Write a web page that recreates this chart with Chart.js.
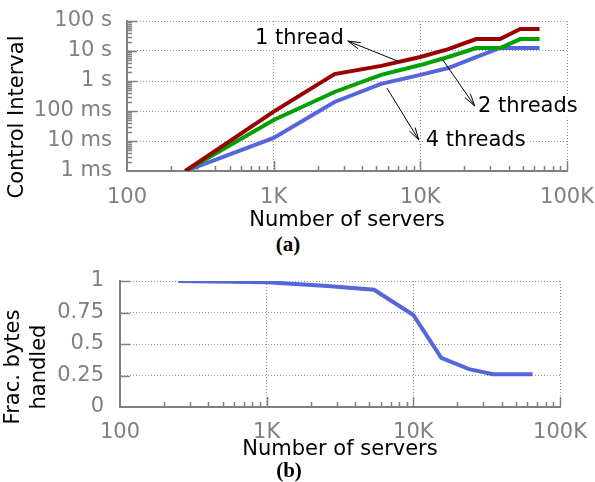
<!DOCTYPE html>
<html>
<head>
<meta charset="utf-8">
<script src="https://cdn.jsdelivr.net/npm/chart.js@4/dist/chart.umd.min.js"></script>
<style>
  html, body { margin: 0; padding: 0; background: #fff; }
  #wrap { position: relative; width: 595px; height: 482px; }
  canvas { position: absolute; left: 0; }
  .cap { position: absolute; width: 60px; text-align: center; line-height: 24px;
         font: bold 21px "Liberation Serif", "DejaVu Serif", serif; color: #000; }
</style>
</head>
<body>
<div id="wrap">
  <canvas id="top" width="595" height="232" style="top:0"></canvas>
  <div class="cap" style="left:258px; top:232px">(a)</div>
  <canvas id="bottom" width="595" height="212" style="top:250px"></canvas>
  <div class="cap" style="left:259px; top:458px">(b)</div>
</div>
<script>
// number of servers (shared by both panels)
const servers = [250, 1000, 2600, 5400, 10000, 15500, 24000, 35000, 48000, 65000];

// control interval in seconds
const oneThread   = [0.001, 0.095, 1.7, 3.2, 6.3, 11.5, 25, 25, 54, 54];
const twoThreads  = [0.001, 0.05, 0.43, 1.6, 3.4, 6.3, 12.6, 12.6, 25, 25];
const fourThreads = [0.001, 0.0126, 0.2, 0.8, 1.6, 2.7, 6.3, 12.6, 12.6, 12.6];

// fraction of bytes handled
const fracBytes = [1.0, 0.99, 0.96, 0.93, 0.73, 0.39, 0.30, 0.26, 0.26, 0.26];

// tick labels
const xTicks = [100, 1000, 10000, 100000];
const xTickLabels = ['100', '1K', '10K', '100K'];
const intervalTicks = [0.001, 0.01, 0.1, 1, 10, 100];
const intervalTickLabels = ['1 ms', '10 ms', '100 ms', '1 s', '10 s', '100 s'];
const fracTicks = [0, 0.25, 0.5, 0.75, 1];
const fracTickLabels = ['0', '0.25', '0.5', '0.75', '1'];

const FONT = '"DejaVu Sans", sans-serif';
const GREY = '#808080';
const points = ys => servers.map((x, i) => ({ x, y: ys[i] }));

function serverAxis(axisHeight, labelPad, titlePad) {
  return {
    type: 'logarithmic', min: 100, max: 100000,
    afterBuildTicks: s => { s.ticks = xTicks.map(v => ({ value: v })); },
    afterFit: s => { s.height = axisHeight; s.paddingLeft = 0; s.paddingRight = 0; },
    ticks: {
      color: GREY, padding: labelPad, maxRotation: 0, autoSkip: false,
      font: { family: FONT, size: 21 },
      callback: v => xTickLabels[xTicks.indexOf(v)]
    },
    grid: { color: '#999', lineWidth: 1, drawTicks: false },
    border: { color: GREY, width: 2, dash: [1, 2] },
    title: {
      display: true, text: 'Number of servers', color: '#000',
      font: { family: FONT, size: 21, lineHeight: 1 },
      padding: { top: 0, bottom: titlePad }
    }
  };
}

// small tick marks drawn inward from the axes
const innerTicks = {
  id: 'innerTicks',
  beforeDatasetsDraw(chart) {
    const { ctx, chartArea: a, scales: { x, y } } = chart;
    ctx.save();
    ctx.strokeStyle = GREY;
    ctx.lineWidth = 1.5;
    ctx.beginPath();
    for (let d = 100; d < 100000; d *= 10) {
      for (let k = 2; k <= 10; k++) {
        const px = Math.round(x.getPixelForValue(k * d)) + 0.5;
        ctx.moveTo(px, a.bottom);
        ctx.lineTo(px, a.bottom - (k === 10 ? 10 : 5));
      }
    }
    if (y.type === 'logarithmic') {
      for (let e = -3; e < 2; e++) {
        const d = Math.pow(10, e);
        for (let k = 2; k <= 10; k++) {
          const py = Math.round(y.getPixelForValue(k * d)) + 0.5;
          ctx.moveTo(a.left, py);
          ctx.lineTo(a.left + (k === 10 ? 10 : 5), py);
        }
      }
    } else {
      fracTicks.slice(1).forEach(v => {
        const py = Math.round(y.getPixelForValue(v)) + 0.5;
        ctx.moveTo(a.left, py);
        ctx.lineTo(a.left + 10, py);
      });
    }
    ctx.stroke();
    ctx.restore();
  }
};

// rotated y axis titles (placed like the original, not centred on the plot)
const sideTitle = {
  id: 'sideTitle',
  afterDraw(chart, args, opts) {
    const ctx = chart.ctx;
    ctx.save();
    ctx.fillStyle = '#000';
    ctx.font = '21px ' + FONT;
    ctx.textAlign = 'center';
    ctx.textBaseline = 'middle';
    opts.lines.forEach((t, i) => {
      ctx.save();
      ctx.translate(opts.x[i], opts.y);
      ctx.rotate(-Math.PI / 2);
      ctx.fillText(t, 0, 0);
      ctx.restore();
    });
    ctx.restore();
  }
};

// arrow labels for the three series, given in data coordinates
const notes = [
  { text: '1 thread',  at: [3010, 27],    align: 'right', from: [7260, 4.3],  to: [3200, 21.5] },
  { text: '2 threads', at: [24700, 0.14], align: 'left',  from: [14260, 5],   to: [23500, 0.147] },
  { text: '4 threads', at: [10900, 0.01], align: 'left',  from: [5920, 0.58], to: [9770, 0.0108] }
];

const arrowNotes = {
  id: 'arrowNotes',
  afterDatasetsDraw(chart) {
    const { ctx, scales: { x, y } } = chart;
    ctx.save();
    ctx.font = '21px ' + FONT;
    ctx.textBaseline = 'middle';
    notes.forEach(n => {
      const tx = x.getPixelForValue(n.at[0]), ty = y.getPixelForValue(n.at[1]);
      const w = ctx.measureText(n.text).width;
      const left = n.align === 'right' ? tx - w : tx;
      ctx.fillStyle = '#fff';
      ctx.fillRect(left - 2, ty - 11, w + 4, 22);
      ctx.fillStyle = '#000';
      ctx.textAlign = n.align;
      ctx.fillText(n.text, tx, ty);

      const x1 = x.getPixelForValue(n.from[0]), y1 = y.getPixelForValue(n.from[1]);
      const x2 = x.getPixelForValue(n.to[0]), y2 = y.getPixelForValue(n.to[1]);
      const ang = Math.atan2(y2 - y1, x2 - x1);
      ctx.strokeStyle = '#000';
      ctx.lineWidth = 1;
      ctx.beginPath();
      ctx.moveTo(x1, y1);
      ctx.lineTo(x2, y2);
      [-1, 1].forEach(s => {
        ctx.moveTo(x2, y2);
        ctx.lineTo(x2 - 13 * Math.cos(ang + s * 0.26), y2 - 13 * Math.sin(ang + s * 0.26));
      });
      ctx.stroke();
    });
    ctx.restore();
  }
};

const lineStyle = { borderWidth: 4, pointRadius: 0, tension: 0, fill: false };

new Chart(document.getElementById('top'), {
  type: 'line',
  data: {
    datasets: [
      { label: '1 thread',  data: points(oneThread),   borderColor: '#9b0000', ...lineStyle },
      { label: '2 threads', data: points(twoThreads),  borderColor: '#00a000', ...lineStyle },
      { label: '4 threads', data: points(fourThreads), borderColor: '#5566dd', ...lineStyle }
    ]
  },
  options: {
    responsive: false,
    animation: false,
    layout: { padding: { top: 21, right: 28, left: 0, bottom: 0 } },
    scales: {
      x: serverAxis(61, 14, 0.5),
      y: {
        type: 'logarithmic', min: 0.001, max: 100,
        afterBuildTicks: s => { s.ticks = intervalTicks.map(v => ({ value: v })); },
        afterFit: s => { s.width = 127; s.paddingTop = 0; s.paddingBottom = 0; },
        ticks: {
          color: GREY, padding: 15, font: { family: FONT, size: 21 },
          callback: v => intervalTickLabels[intervalTicks.findIndex(t => Math.abs(t - v) < t * 1e-6)]
        },
        grid: { color: '#999', lineWidth: 1, drawTicks: false },
        border: { color: GREY, width: 2, dash: [1, 2] }
      }
    },
    plugins: {
      legend: { display: false },
      tooltip: { enabled: false },
      sideTitle: { lines: ['Control Interval'], x: [18], y: 117 }
    }
  },
  plugins: [innerTicks, arrowNotes, sideTitle]
});

new Chart(document.getElementById('bottom'), {
  type: 'line',
  data: {
    datasets: [
      { label: 'Frac. bytes handled', data: points(fracBytes), borderColor: '#5566dd', ...lineStyle }
    ]
  },
  options: {
    responsive: false,
    animation: false,
    layout: { padding: { top: 31, right: 35, left: 0, bottom: 0 } },
    scales: {
      x: serverAxis(55, 13, 1.5),
      y: {
        type: 'linear', min: 0, max: 1,
        afterBuildTicks: s => { s.ticks = fracTicks.map(v => ({ value: v })); },
        afterFit: s => { s.width = 120; s.paddingTop = 0; s.paddingBottom = 0; },
        ticks: {
          color: GREY, padding: 16, font: { family: FONT, size: 21 },
          callback: v => fracTickLabels[fracTicks.indexOf(v)]
        },
        grid: { color: '#999', lineWidth: 1, drawTicks: false },
        border: { color: GREY, width: 2, dash: [1, 2] }
      }
    },
    plugins: {
      legend: { display: false },
      tooltip: { enabled: false },
      sideTitle: { lines: ['Frac. bytes', 'handled'], x: [14, 40], y: 117 }
    }
  },
  plugins: [innerTicks, sideTitle]
});
</script>
</body>
</html>
